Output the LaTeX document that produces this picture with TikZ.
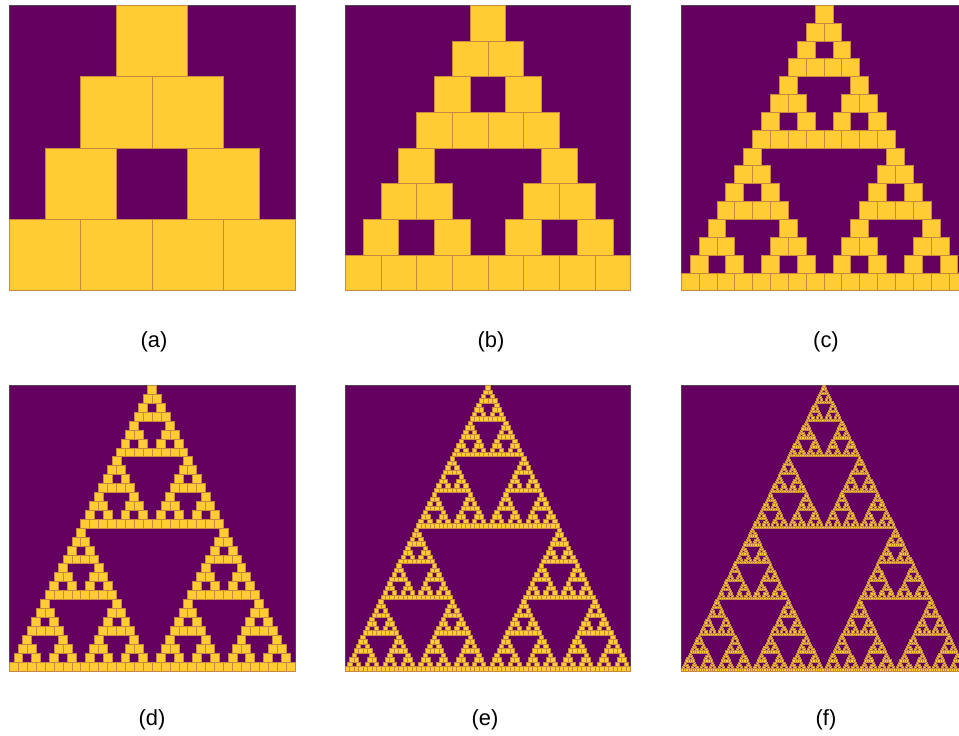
\documentclass[tikz,border=0pt]{standalone}
\usepackage{fontspec}
\setmainfont{Liberation Sans}
\usepackage{xcolor}
\usepackage{tikz}
\definecolor{plumbg}{RGB}{100, 0, 96}
\definecolor{cellfill}{RGB}{255, 204, 51}
\definecolor{celledge}{RGB}{200, 136, 64}
\definecolor{frameline}{RGB}{80, 70, 80}

% cells of the triangle: level, top centre x, top y, cell side
\newcommand{\sierp}[4]{%
  \ifnum#1=0
    \filldraw[cell] ({#2-0.5*#4},#3) rectangle ++(#4,#4);
  \else
    \begingroup
    \pgfmathsetmacro\sqy{#4*2^(#1-1)}%
    \pgfmathsetmacro\sql{#2-0.5*\sqy}%
    \pgfmathsetmacro\sqr{#2+0.5*\sqy}%
    \pgfmathsetmacro\sqb{#3+\sqy}%
    \edef\sqnext{\noexpand\sierp{\the\numexpr#1-1\relax}{#2}{#3}{#4}%
      \noexpand\sierp{\the\numexpr#1-1\relax}{\sql}{\sqb}{#4}%
      \noexpand\sierp{\the\numexpr#1-1\relax}{\sqr}{\sqb}{#4}}%
    \sqnext
    \endgroup
  \fi}

\tikzset{
  cell/.style={fill=cellfill, draw=celledge, line width=0.9bp},
  panel/.style={fill=plumbg, draw=frameline, line width=0.8bp},
  lab/.style={font=\fontsize{22}{26}\selectfont, inner sep=0pt}
}

\begin{document}
\begin{tikzpicture}[x=1bp,y=-1bp]
\useasboundingbox (0,0) rectangle (959,736);
\foreach \lev/\px/\py/\lab/\lx/\ly in {2/9.5/5.3/a/154/342, 3/345.3/5.3/b/491/342, 4/681.3/5.3/c/826/342,
    5/9.5/385.5/d/152/720, 6/345.3/385.5/e/485/720, 7/681.3/385.5/f/826/720}{
  \filldraw[panel] (\px,\py) rectangle ++(285.5,285.5);
  \pgfmathsetmacro\side{285.5/2^\lev}
  \pgfmathsetmacro\cx{\px+142.75}
  \sierp{\lev}{\cx}{\py}{\side}
  \node[lab] (lab\lab) at (\lx,\ly) {(\lab)};
}
\end{tikzpicture}
\end{document}
